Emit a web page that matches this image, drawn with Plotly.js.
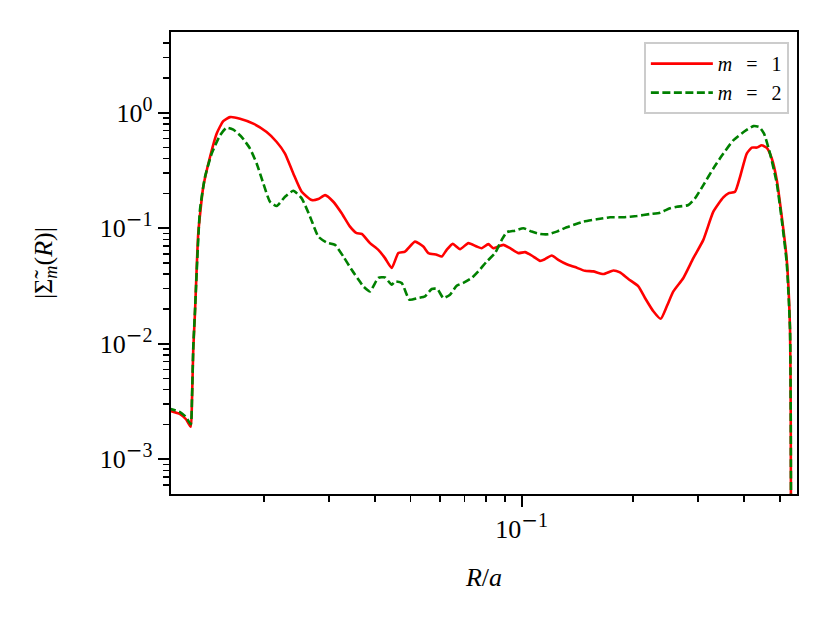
<!DOCTYPE html>
<html>
<head>
<meta charset="utf-8">
<script src="https://cdn.plot.ly/plotly-3.0.1.min.js"></script>
<style>
  html, body { margin: 0; padding: 0; background: #fff; }
</style>
</head>
<body>
<div id="plotDiv" style="width:830px;height:622px;"></div>
<script>
// R/a and |Sigma_m(R)| for m = 1
var rM1 = [0.0110, 0.01186, 0.01231, 0.01268, 0.01278, 0.01288, 0.01302, 0.01329, 0.01371, 0.0143,
  0.0149, 0.01553, 0.0162, 0.01724, 0.01873, 0.02036, 0.02168, 0.02283, 0.02404, 0.02534,
  0.02697, 0.02811, 0.02931, 0.03086, 0.03252, 0.03425, 0.03571, 0.03685, 0.0388, 0.04087,
  0.04261, 0.04443, 0.0463, 0.04827, 0.05137, 0.05411, 0.05583, 0.05882, 0.06069, 0.06261,
  0.06501, 0.06804, 0.07166, 0.07551, 0.0779, 0.08118, 0.08375, 0.08915, 0.09296, 0.0979,
  0.1021, 0.1075, 0.1121, 0.1156, 0.1206, 0.1256, 0.1324, 0.1394, 0.1484, 0.1563,
  0.1664, 0.1771, 0.1846, 0.1945, 0.207, 0.2158, 0.2273, 0.238, 0.2472, 0.2575,
  0.2741, 0.2917, 0.3105, 0.3305, 0.3518, 0.363, 0.3784, 0.3904, 0.4071, 0.4201,
  0.4335, 0.4471, 0.4613, 0.4759, 0.491, 0.5065, 0.5225, 0.5333, 0.5357, 0.5377];
var sigM1 = [2.65e-3, 2.46e-3, 2.22e-3, 1.91e-3, 3.31e-3, 8.93e-3, 0.0186, 0.0906, 0.2285, 0.414,
  0.659, 0.846, 0.916, 0.888, 0.804, 0.68, 0.558, 0.443, 0.298, 0.2068,
  0.1754, 0.1789, 0.1936, 0.1696, 0.1347, 0.1032, 0.0906, 0.0893, 0.0743, 0.065,
  0.0551, 0.0452, 0.0609, 0.0628, 0.0766, 0.0694, 0.0609, 0.0589, 0.0569, 0.065,
  0.0732, 0.0659, 0.0743, 0.0694, 0.0672, 0.0728, 0.0672, 0.0718, 0.0672, 0.0609,
  0.0621, 0.0569, 0.0522, 0.054, 0.058, 0.0533, 0.0488, 0.0461, 0.0428, 0.0423,
  0.0401, 0.0431, 0.0414, 0.0363, 0.0314, 0.0249, 0.0191, 0.01643, 0.0211, 0.0284,
  0.0371, 0.0551, 0.0793, 0.139, 0.185, 0.2003, 0.2068, 0.2785, 0.443, 0.499,
  0.499, 0.5225, 0.4953, 0.4013, 0.2609, 0.1259, 0.0533, 0.01328, 2.23e-3, 1e-5];

// R/a and |Sigma_m(R)| for m = 2
var rM2 = [0.0110, 0.01186, 0.01231, 0.01268, 0.01278, 0.01288, 0.01302, 0.01343, 0.01386, 0.01445,
  0.01522, 0.01586, 0.01654, 0.01743, 0.01835, 0.01913, 0.01994, 0.02079, 0.02168, 0.02283,
  0.02404, 0.02534, 0.02669, 0.02811, 0.02961, 0.03119, 0.03285, 0.03461, 0.03646, 0.03722,
  0.0388, 0.04087, 0.04261, 0.04443, 0.04535, 0.04729, 0.04959, 0.05245, 0.05469, 0.05703,
  0.05905, 0.0613, 0.06393, 0.06664, 0.06945, 0.07319, 0.07627, 0.08036, 0.08464, 0.08827,
  0.09105, 0.0959, 0.101, 0.1064, 0.1121, 0.1181, 0.1244, 0.1324, 0.1423, 0.1469,
  0.1597, 0.1735, 0.1885, 0.205, 0.2227, 0.237, 0.2522, 0.2631, 0.2828, 0.2948,
  0.3105, 0.3305, 0.3518, 0.3744, 0.4027, 0.4243, 0.4405, 0.4535, 0.4708, 0.491,
  0.5065, 0.5225, 0.5333, 0.5357, 0.5377];
var sigM2 = [2.77e-3, 2.56e-3, 2.32e-3, 2.01e-3, 3.44e-3, 9.29e-3, 0.01936, 0.1438, 0.2785, 0.443,
  0.637, 0.742, 0.714, 0.616, 0.4894, 0.3634, 0.2443, 0.1696, 0.1557, 0.1873,
  0.2109, 0.1814, 0.1259, 0.0846, 0.0751, 0.0718, 0.0569, 0.0437, 0.0344, 0.0314,
  0.0284, 0.0371, 0.0375, 0.0324, 0.0346, 0.0336, 0.0241, 0.0249, 0.0257, 0.0298,
  0.0298, 0.0249, 0.0266, 0.0318, 0.0336, 0.0371, 0.0423, 0.0515, 0.0609, 0.0793,
  0.0923, 0.0953, 0.1, 0.0935, 0.0893, 0.0888, 0.0935, 0.102, 0.1104, 0.114,
  0.1196, 0.1244, 0.1244, 0.1276, 0.1328, 0.1363, 0.1487, 0.1535, 0.1588, 0.1814,
  0.2361, 0.3291, 0.443, 0.577, 0.694, 0.766, 0.751, 0.659, 0.443, 0.2443,
  0.1179, 0.0499, 0.01328, 2.23e-3, 1e-5];

var seriesNames = ['<i>m</i>\u2002\u2009=\u2002\u20091', '<i>m</i>\u2002\u2009=\u2002\u20092'];

// tick labels (wide TeX-like minus in the exponent)
function pow10(e) {
  var s = e < 0
    ? '<span style="font-family:DejaVu Serif">\u2212</span>' + (-e)
    : String(e);
  return '10<sup><span style="font-size:20px">' + s + '</span></sup>';
}
var xTickVals = [0.1];
var xTickText = [pow10(-1)];
var xMinorVals = [0.02, 0.03, 0.04, 0.05, 0.06, 0.07, 0.08, 0.09, 0.2, 0.3, 0.4, 0.5];
var yTickVals = [1e-3, 1e-2, 1e-1, 1];
var yTickText = [pow10(-3), pow10(-2), pow10(-1), pow10(0)];
var yMinorVals = [6e-4, 7e-4, 8e-4, 9e-4,
  2e-3, 3e-3, 4e-3, 5e-3, 6e-3, 7e-3, 8e-3, 9e-3,
  0.02, 0.03, 0.04, 0.05, 0.06, 0.07, 0.08, 0.09,
  0.2, 0.3, 0.4, 0.5, 0.6, 0.7, 0.8, 0.9,
  2, 3, 4];

var serif = 'Liberation Serif, DejaVu Serif, serif';

var data = [
  {
    type: 'scatter', mode: 'lines',
    x: rM1, y: sigM1, name: seriesNames[0],
    line: { color: '#ff0000', width: 2.6, shape: 'spline', smoothing: 0.5 }
  },
  {
    type: 'scatter', mode: 'lines',
    x: rM2, y: sigM2, name: seriesNames[1],
    line: { color: '#008000', width: 2.6, dash: '8px,3.5px', shape: 'spline', smoothing: 0.5 }
  }
];

var axisCommon = {
  type: 'log',
  showgrid: false,
  zeroline: false,
  showline: true,
  mirror: true,
  linecolor: '#000',
  linewidth: 2.2,
  ticks: 'outside',
  ticklen: 11,
  tickwidth: 2,
  tickcolor: '#000',
  tickfont: { family: serif, size: 26, color: '#000' },
  tickmode: 'array'
};

var layout = {
  width: 830,
  height: 622,
  margin: { l: 171, r: 33, t: 32, b: 128 },
  paper_bgcolor: '#fff',
  plot_bgcolor: '#fff',
  font: { family: serif, color: '#000' },
  showlegend: true,
  xaxis: Object.assign({}, axisCommon, {
    range: [Math.log10(0.01121), Math.log10(0.557)],
    tickvals: xTickVals,
    ticktext: xTickText,
    minor: { tickmode: 'array', tickvals: xMinorVals, ticks: 'outside', ticklen: 6, tickwidth: 1.6, tickcolor: '#000' },
    title: { text: '<i>R</i>/<i>a</i>', font: { family: serif, size: 26, color: '#000' }, standoff: 24 }
  }),
  yaxis: Object.assign({}, axisCommon, {
    range: [Math.log10(5e-4), Math.log10(5)],
    tickvals: yTickVals,
    ticktext: yTickText,
    minor: { tickmode: 'array', tickvals: yMinorVals, ticks: 'outside', ticklen: 6, tickwidth: 1.6, tickcolor: '#000' },
    title: { text: '|\u03A3\u0303<sub><i>m</i></sub>(<i>R</i>)|', font: { family: serif, size: 26, color: '#000' }, standoff: 40 }
  }),
  legend: {
    x: 0.987, y: 0.978,
    xanchor: 'right', yanchor: 'top',
    bgcolor: '#fff',
    bordercolor: '#cccccc',
    borderwidth: 2,
    itemwidth: 62,
    font: { family: serif, size: 20, color: '#000' }
  }
};

Plotly.newPlot('plotDiv', data, layout, { displayModeBar: false, staticPlot: true });
</script>
</body>
</html>
